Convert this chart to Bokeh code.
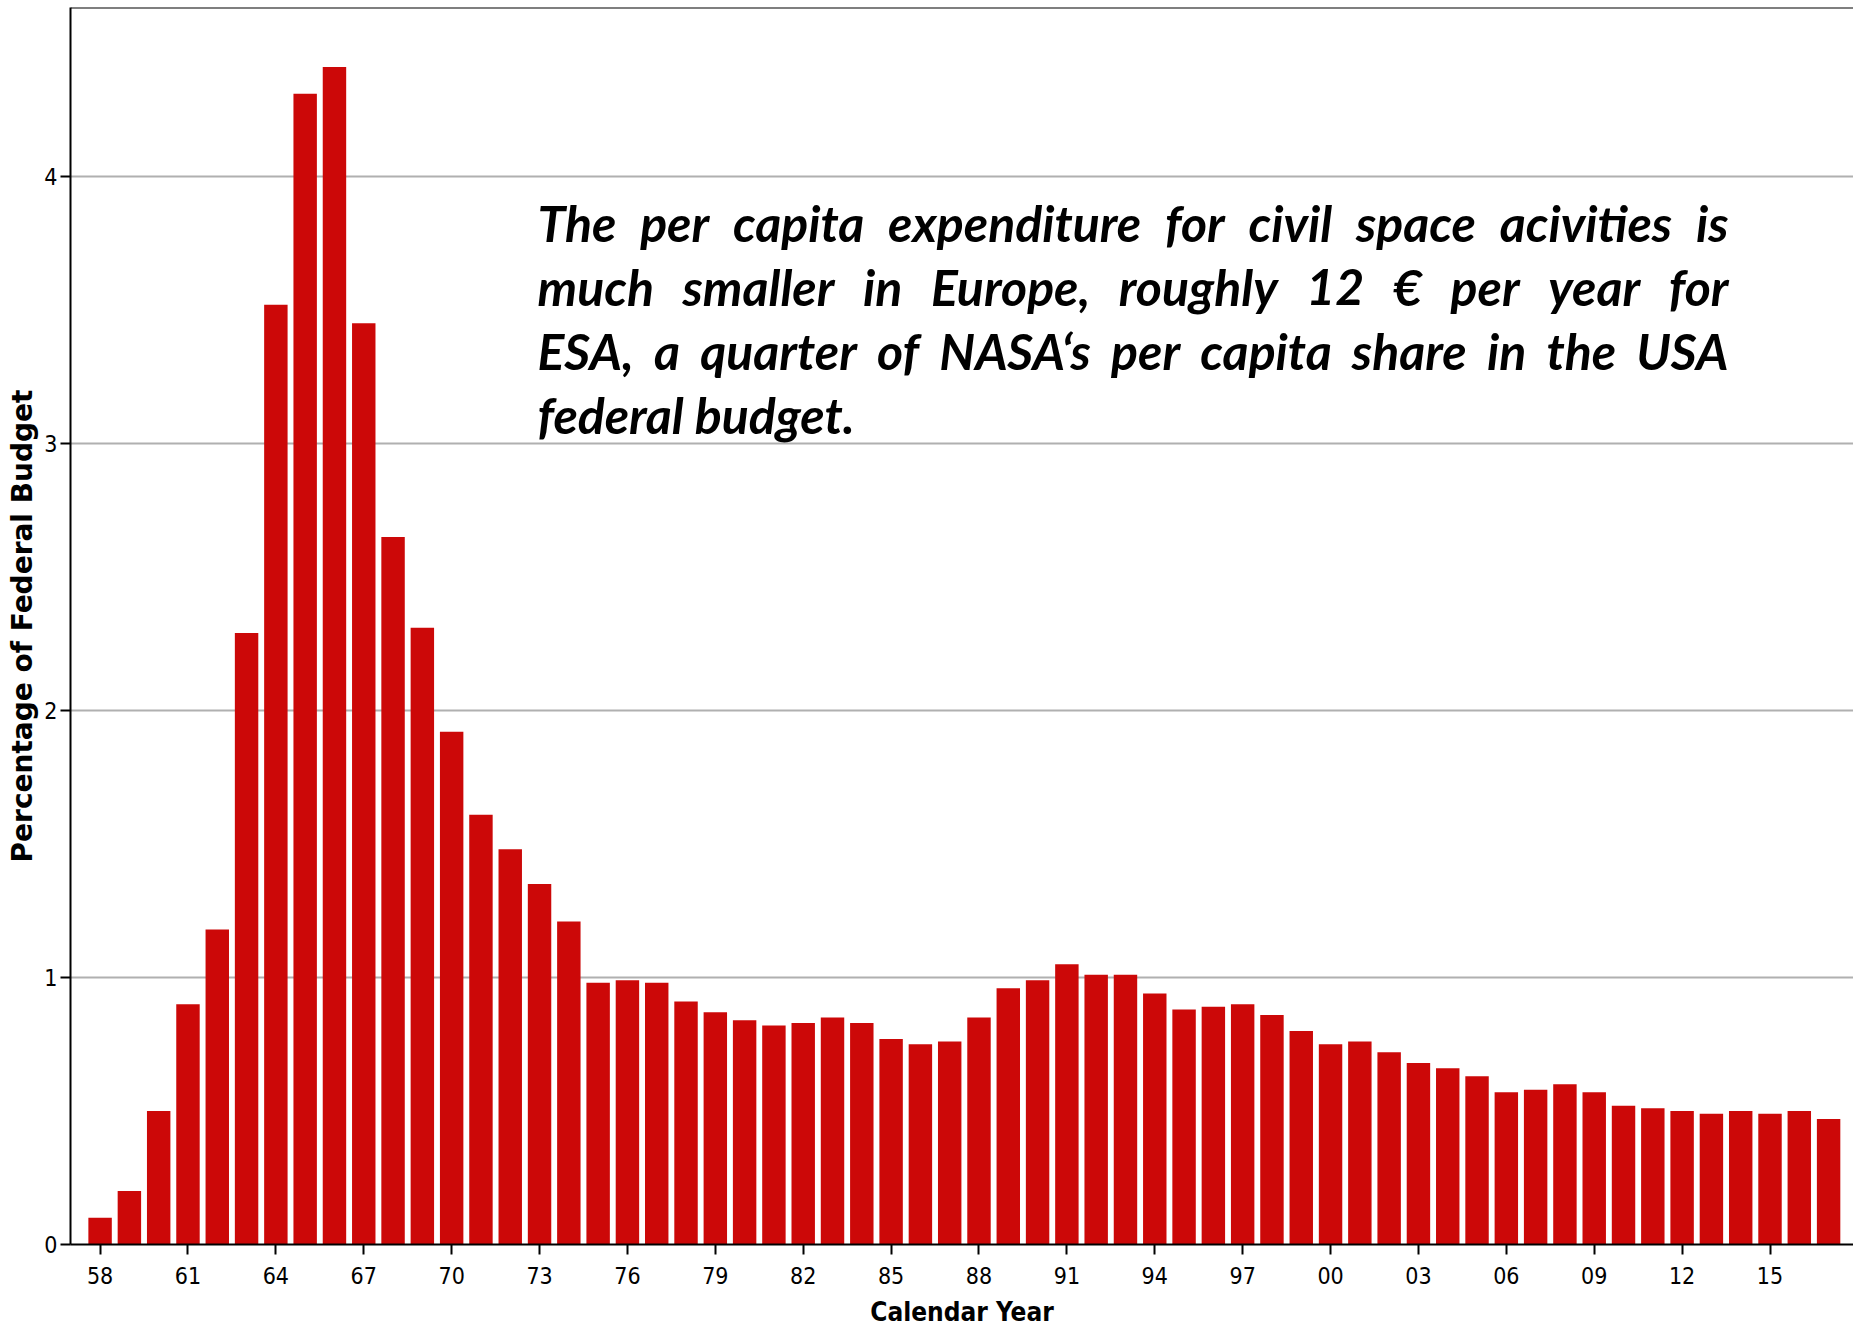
import glob
import subprocess
from bokeh.plotting import figure
from bokeh.models import Range1d, FixedTicker, Span, ColumnDataSource, Label
from bokeh.embed import file_html
from bokeh.resources import INLINE

# ---- data -------------------------------------------------------------
years = list(range(1958, 2018))
share = [0.10, 0.20, 0.50, 0.90, 1.18, 2.29, 3.52, 4.31, 4.41, 3.45,
         2.65, 2.31, 1.92, 1.61, 1.48, 1.35, 1.21, 0.98, 0.99, 0.98,
         0.91, 0.87, 0.84, 0.82, 0.83, 0.85, 0.83, 0.77, 0.75, 0.76,
         0.85, 0.96, 0.99, 1.05, 1.01, 1.01, 0.94, 0.88, 0.89, 0.90,
         0.86, 0.80, 0.75, 0.76, 0.72, 0.68, 0.66, 0.63, 0.57, 0.58,
         0.60, 0.57, 0.52, 0.51, 0.50, 0.49, 0.50, 0.49, 0.50, 0.47]
tick_years = list(range(1958, 2016, 3))
tick_labels = ["58", "61", "64", "67", "70", "73", "76", "79", "82", "85",
               "88", "91", "94", "97", "00", "03", "06", "09", "12", "15"]
y_ticks = [0, 1, 2, 3, 4]
note_lines = [
    "The per capita expenditure for civil space acivities is",
    "much smaller in Europe, roughly 12 \u20ac per year for",
    "ESA, a quarter of  NASA\u2018s per capita share in the USA",
    "federal budget.",
]
note_justified = [True, True, True, False]

# ---- layout constants ---------------------------------------------------
NARROW = "DejaVu Sans Condensed, Roboto"
RED = "#cc0808"
Y_TOP = 4.633
X_START, X_END = 1956.99, 2017.85
W, H = 1853, 1334
BORDER_L, BORDER_B, BORDER_T = 70, 90, 7
PX_PER_YEAR = (W - BORDER_L) / (X_END - X_START)
PX_PER_UNIT = (H - BORDER_B - BORDER_T) / Y_TOP
NOTE_FONT, NOTE_SIZE = "Lato", 50
NOTE_LEFT_PX, NOTE_RIGHT_PX = 537, 1728
NOTE_MID_PX = [222.5, 286.5, 350.5, 414.5]


def px_to_x(px):
    return X_START + (px - BORDER_L) / PX_PER_YEAR


def px_to_y(py):
    return (H - BORDER_B - py) / PX_PER_UNIT


def find_font():
    pats = ["/usr/share/fonts/**/Lato-BoldItalic.ttf",
            "/usr/local/share/fonts/**/Lato-BoldItalic.ttf",
            "/usr/share/fonts/**/Lato*BoldItalic*.*tf"]
    for pat in pats:
        hits = glob.glob(pat, recursive=True)
        if hits:
            return hits[0]
    try:
        out = subprocess.run(["fc-match", "-f", "%{file}", "Lato:bold:italic"],
                             capture_output=True, text=True, timeout=10).stdout
        if out and "lato" in out.lower():
            return out.strip()
    except Exception:
        pass
    return None


measure = None
try:
    from PIL import ImageFont
    path = find_font()
    if path:
        _f = ImageFont.truetype(path, NOTE_SIZE)
        measure = _f.getlength
except Exception:
    measure = None

source = ColumnDataSource(data=dict(year=years, share=share))

p = figure(width=W, height=H,
           x_range=Range1d(X_START, X_END), y_range=Range1d(0, Y_TOP),
           output_backend="svg", toolbar_location=None,
           min_border_top=BORDER_T, min_border_right=0,
           min_border_left=BORDER_L, min_border_bottom=BORDER_B)
p.outline_line_color = None
p.background_fill_color = "white"

p.vbar(x="year", top="share", width=0.8, source=source,
       fill_color=RED, line_color=None)

# top frame line
p.add_layout(Span(location=Y_TOP, dimension="width", line_color="black",
                  line_width=2))

# grid
p.xgrid.grid_line_color = None
p.ygrid.ticker = FixedTicker(ticks=y_ticks)
p.ygrid.grid_line_color = "#b0b0b0"
p.ygrid.grid_line_width = 2

# x axis
xa = p.xaxis[0]
xa.ticker = FixedTicker(ticks=tick_years)
xa.major_label_overrides = {y: l for y, l in zip(tick_years, tick_labels)}
xa.minor_tick_line_color = None
xa.major_tick_in = 0
xa.major_tick_out = 10
xa.major_tick_line_width = 2
xa.axis_line_width = 2
xa.axis_line_color = "black"
xa.major_label_standoff = 12
xa.major_label_text_font = NARROW
xa.major_label_text_font_size = "23px"
xa.major_label_text_color = "black"
xa.axis_label = "Calendar Year"
xa.axis_label_text_font = NARROW
xa.axis_label_text_font_style = "bold"
xa.axis_label_text_font_size = "26px"
xa.axis_label_text_color = "black"
xa.axis_label_standoff = 10

# y axis
ya = p.yaxis[0]
ya.ticker = FixedTicker(ticks=y_ticks)
ya.minor_tick_line_color = None
ya.major_tick_in = 0
ya.major_tick_out = 10
ya.major_tick_line_width = 2
ya.axis_line_width = 2
ya.axis_line_color = "black"
ya.major_label_standoff = 3
ya.major_label_text_font = NARROW
ya.major_label_text_font_size = "23px"
ya.major_label_text_color = "black"
ya.axis_label = "Percentage of Federal Budget"
ya.axis_label_text_font = "DejaVu Sans"
ya.axis_label_text_font_style = "bold"
ya.axis_label_text_font_size = "28px"
ya.axis_label_text_color = "black"
ya.axis_label_standoff = 2


def add_note(text, px, py, align="left"):
    p.add_layout(Label(x=px_to_x(px), y=px_to_y(py), text=text,
                       text_font=NOTE_FONT, text_font_style="bold italic",
                       text_font_size=f"{NOTE_SIZE}px", text_color="black",
                       text_baseline="middle", text_align=align))


# annotation text (justified block)
for line, just, mid in zip(note_lines, note_justified, NOTE_MID_PX):
    words = line.split()
    if just and measure is not None and len(words) > 1:
        widths = [measure(w) for w in words]
        gap = (NOTE_RIGHT_PX - NOTE_LEFT_PX - sum(widths)) / (len(words) - 1)
        pos = NOTE_LEFT_PX
        for i, (w, wd) in enumerate(zip(words, widths)):
            if i == len(words) - 1:
                add_note(w, NOTE_RIGHT_PX, mid, align="right")
            else:
                add_note(w, pos, mid)
            pos += wd + gap
    else:
        add_note(line, NOTE_LEFT_PX, mid)

open("out.html", "w").write(file_html(p, INLINE))
